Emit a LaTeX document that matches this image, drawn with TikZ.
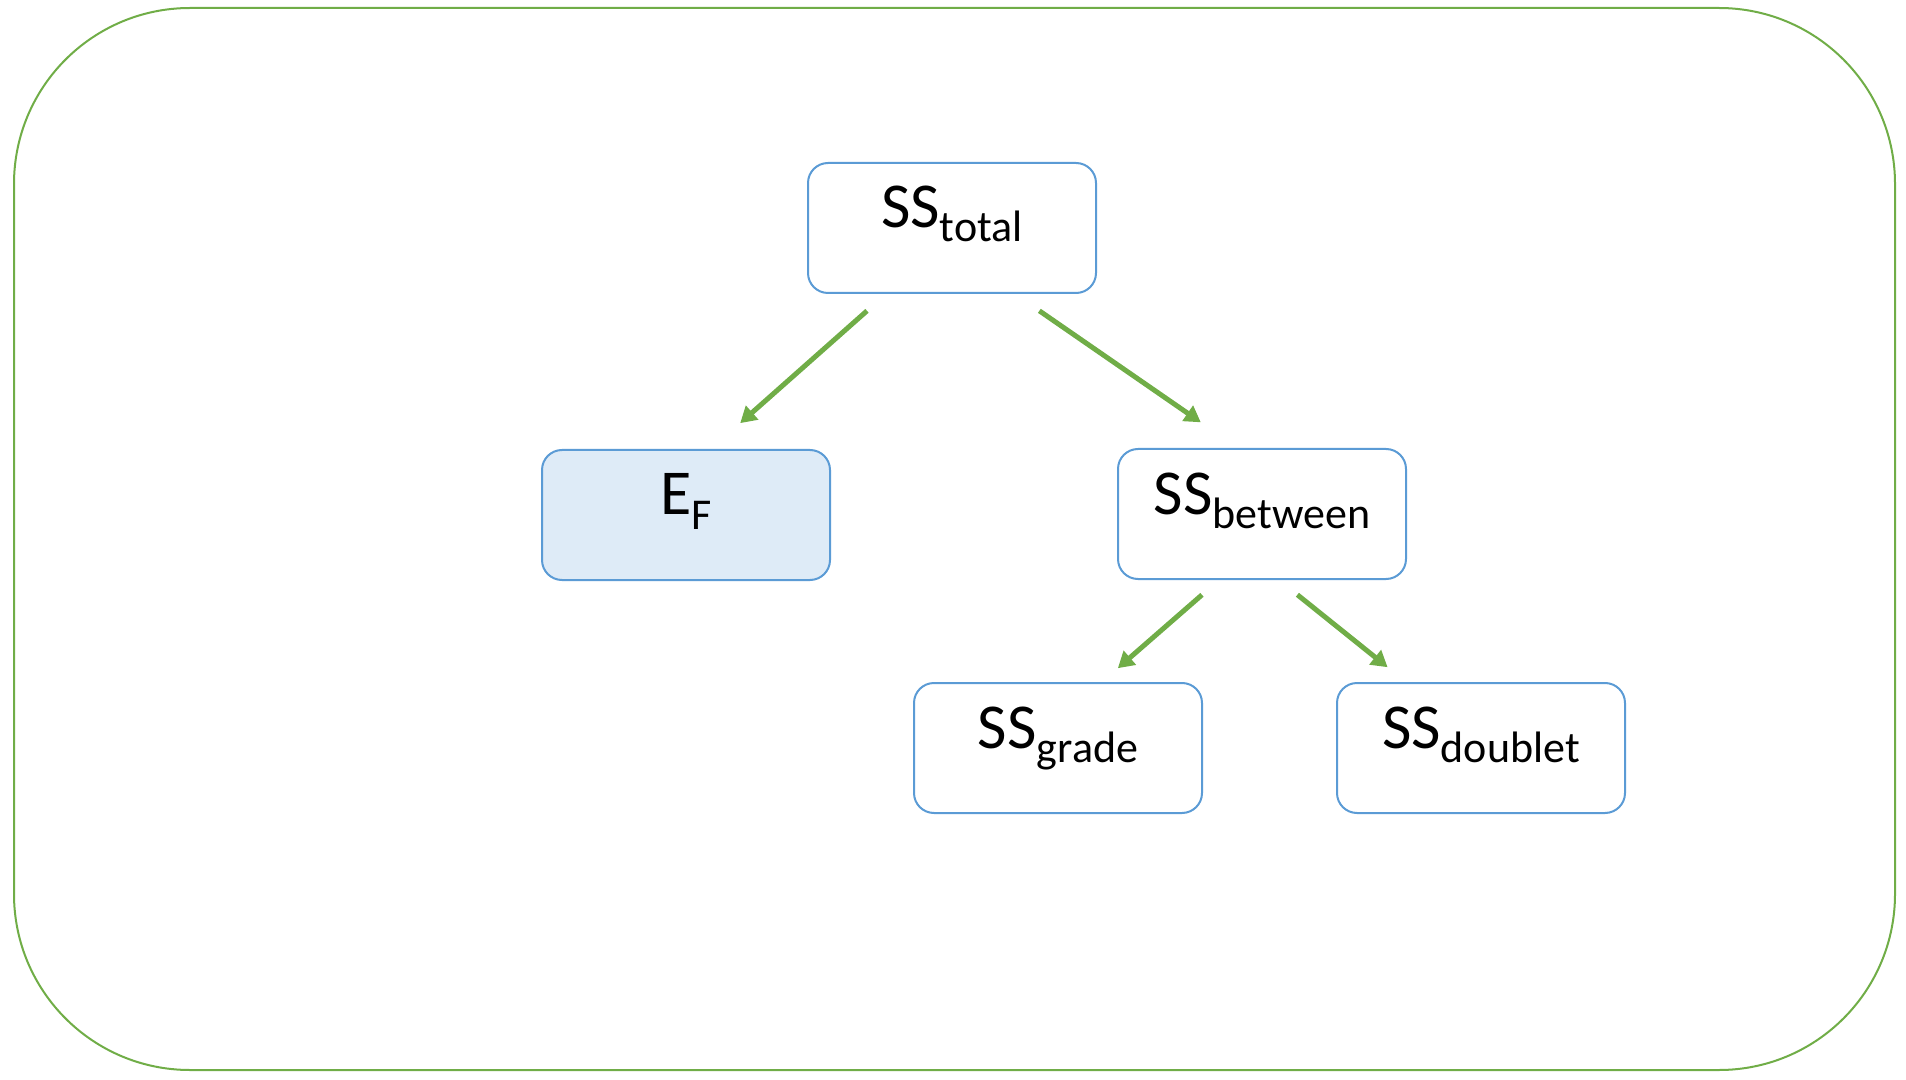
\documentclass[tikz,border=0pt]{standalone}
\usepackage{fontspec}
\setmainfont{Carlito}
\usetikzlibrary{arrows.meta,positioning,calc}
\definecolor{frameg}{HTML}{70AD47}
\definecolor{boxb}{HTML}{5B9BD5}
\definecolor{fillb}{HTML}{DEEBF7}
\newcommand{\subtxt}[1]{\raisebox{-7pt}{\fontsize{22}{22}\selectfont #1}}

\begin{document}
\begin{tikzpicture}[x=0.5pt,y=-0.5pt,
  box/.style={draw=boxb,line width=1pt,rounded corners=10pt,minimum width=144pt,minimum height=65pt,
    inner sep=0pt,text height=16pt,text depth=16pt,font=\fontsize{32}{36}\selectfont},
  flow/.style={draw=frameg,line width=2.5pt,-{Triangle[length=8pt,width=9pt]}}]
\useasboundingbox(0,0)rectangle(1906,1080);
\draw[frameg,line width=1pt,rounded corners=88pt](14,8)rectangle(1895,1070);
% boxes
\node[box](total)at(952,228){SS\subtxt{total}};
\node[box,fill=fillb](ef)at(686,515){E\subtxt{F}};
\node[box](between)at(1262,514){SS\subtxt{between}};
\node[box](grade)at(1058,748){SS\subtxt{grade}};
\node[box](doublet)at(1481,748){SS\subtxt{doublet}};
% arrows
\draw[flow,shorten <=12.7pt,shorten >=19.5pt]($(total.south)+(-66,0)$)--($(ef.north)+(25,0)$);
\draw[flow,shorten <=14.8pt,shorten >=22.6pt]($(total.south)+(63,0)$)--($(between.north)+(-24,0)$);
\draw[flow,shorten <=11.3pt,shorten >=10.5pt]($(between.south)+(-43,0)$)--($(grade.north)+(44,0)$);
\draw[flow,shorten <=11.8pt,shorten >=11.8pt]($(between.south)+(17,0)$)--($(doublet.north)+(-75,0)$);
\end{tikzpicture}
\end{document}
